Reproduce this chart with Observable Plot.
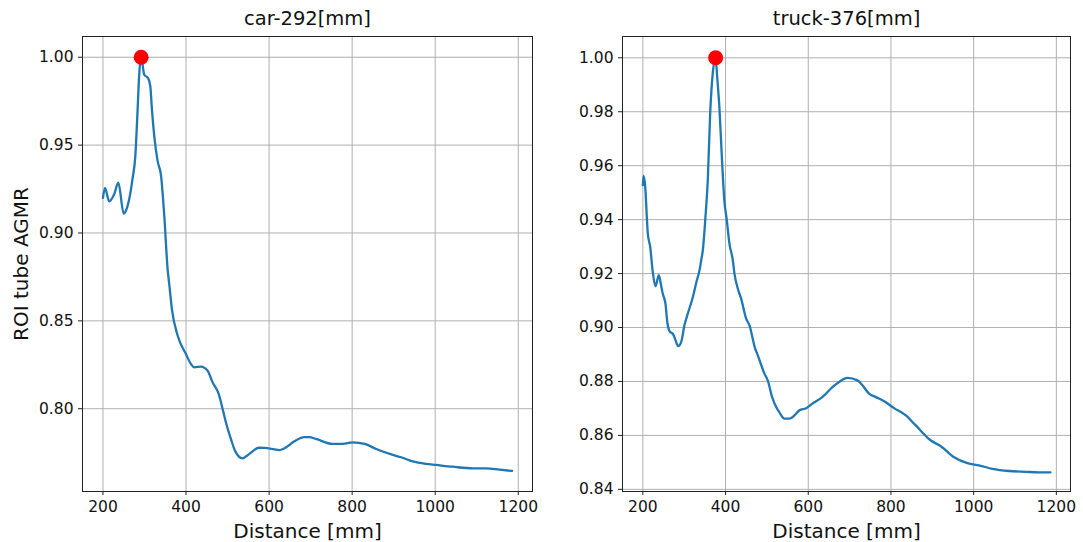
<!DOCTYPE html>
<html>
<head>
<meta charset="utf-8">
<script src="https://cdn.jsdelivr.net/npm/d3@7"></script>
<script src="https://cdn.jsdelivr.net/npm/@observablehq/plot@0.6"></script>
<style>
  html, body { margin: 0; padding: 0; background: #fff; }
  #wrap { position: relative; width: 1083px; height: 542px; font-family: "DejaVu Sans", sans-serif; }
  #left { position: absolute; left: 0; top: 0; }
  #right { position: absolute; left: 540px; top: 0; }
</style>
</head>
<body>
<div id="wrap"><div id="left"></div><div id="right"></div></div>
<script>
const titles = ["car-292[mm]", "truck-376[mm]"];
const xLabel = "Distance [mm]";
const yLabel = "ROI tube AGMR";

const carX = [200,205,215,227,237,250,255,263,271,278,283,287.5,292,299.5,309,314,318,323.6,331.6,340,347.7,355.7,360,366,380,400,412,420,436,452,464,478.6,488,496,508,519,536,552.5,575,589,625,637,661,685,697,713,753,777,801,830,858,898,918,946,978,1002,1042,1091,1123,1155,1185];
const carY = [0.920,0.9256,0.918,0.922,0.9286,0.911,0.9125,0.919,0.9305,0.944,0.968,0.991,1.0,0.990,0.988,0.9835,0.970,0.955,0.941,0.9324,0.9097,0.8794,0.870,0.8567,0.8415,0.831,0.8254,0.8235,0.824,0.8216,0.815,0.8084,0.800,0.7923,0.7828,0.7756,0.7718,0.7743,0.7778,0.7777,0.7765,0.7775,0.7815,0.7838,0.7838,0.7828,0.780,0.780,0.7809,0.780,0.7771,0.7737,0.7724,0.770,0.7686,0.768,0.767,0.7661,0.7661,0.7653,0.7646];

const truckX = [200,201.5,205,212,217.7,224,230.5,238.6,244,248,254.6,259.6,266,272.5,279,285.5,292.6,300.6,308.8,321,330.6,337,341,345,351.4,357,362.8,369,376,379.7,385,391.8,397,403,409.4,417.6,421.5,429.7,437.7,449.8,457.8,471.6,478,494,502,512.7,522.4,530,542.4,554.5,566.6,578.7,595,610,634,658.5,674.7,694.8,719,731,747,763.5,783.5,807.7,836,860,896.5,920.7,952.9,985,1013,1045.5,1086,1126,1158,1186];
const truckY = [0.9528,0.9562,0.9534,0.9348,0.9299,0.9205,0.9153,0.9194,0.9157,0.9126,0.9089,0.9014,0.8983,0.8977,0.8953,0.8931,0.8946,0.9008,0.9052,0.9113,0.9175,0.9212,0.9249,0.9286,0.941,0.9546,0.9794,0.9942,1.0,0.993,0.9818,0.9608,0.9472,0.9398,0.9311,0.9249,0.920,0.9144,0.9107,0.9033,0.9008,0.8922,0.8897,0.8829,0.8804,0.8742,0.8705,0.8686,0.8662,0.8662,0.8674,0.8693,0.8701,0.8718,0.8742,0.8779,0.8798,0.8813,0.8804,0.8786,0.8755,0.8742,0.8727,0.8701,0.8674,0.8637,0.8581,0.856,0.8519,0.8497,0.8489,0.8476,0.8468,0.8465,0.8463,0.8463];

const peakX = [292, 376];
const peakY = [1.0, 1.0];

const xTicks = [200, 400, 600, 800, 1000, 1200];
const carYTicks = [0.80, 0.85, 0.90, 0.95, 1.00];
const truckYTicks = [0.84, 0.86, 0.88, 0.90, 0.92, 0.94, 0.96, 0.98, 1.00];

function panel({xs, ys, px, py, title, yTicks, yDomain, width, marginLeft, marginRight, showYLabel}) {
  const data = xs.map((x, i) => ({x, y: ys[i]}));
  const marks = [
    Plot.gridX(xTicks, {stroke: "#b0b0b0", strokeOpacity: 1, strokeWidth: 1}),
    Plot.gridY(yTicks, {stroke: "#b0b0b0", strokeOpacity: 1, strokeWidth: 1}),
    Plot.axisX(xTicks, {tickSize: 4, tickPadding: 5, fontSize: 15.5, label: null, tickFormat: d3.format("d"), stroke: "#222", fill: "#111"}),
    Plot.axisY(yTicks, {tickSize: 4, tickPadding: 5, fontSize: 15.5, label: null, tickFormat: d3.format(".2f"), stroke: "#222", fill: "#111"}),
    Plot.line(data, {x: "x", y: "y", stroke: "#1f77b4", strokeWidth: 2.3, curve: "monotone-x"}),
    Plot.dot([{x: px, y: py}], {x: "x", y: "y", r: 7.5, fill: "#ff0000", stroke: "none"}),
    Plot.frame({stroke: "#222", strokeWidth: 1}),
    Plot.text([title], {frameAnchor: "top", text: d => d, dy: -18, fontSize: 19.5, fill: "#111", lineAnchor: "middle"}),
    Plot.text([xLabel], {frameAnchor: "bottom", text: d => d, dy: 40, fontSize: 20, fill: "#111", lineAnchor: "middle"})
  ];
  if (showYLabel) {
    marks.push(Plot.text([yLabel], {frameAnchor: "left", text: d => d, rotate: -90, dx: -61, fontSize: 20, fill: "#111", textAnchor: "middle", lineAnchor: "middle"}));
  }
  return Plot.plot({
    width, height: 542,
    marginLeft, marginRight, marginTop: 36, marginBottom: 51,
    style: {fontFamily: "DejaVu Sans, sans-serif", background: "#fff", color: "#222"},
    x: {domain: [150.75, 1234.25]},
    y: {domain: yDomain},
    marks
  });
}

document.getElementById("left").appendChild(panel({
  xs: carX, ys: carY, px: peakX[0], py: peakY[0], title: titles[0],
  yTicks: carYTicks, yDomain: [0.7529, 1.0118], width: 540, marginLeft: 82, marginRight: 8, showYLabel: true
}));
document.getElementById("right").appendChild(panel({
  xs: truckX, ys: truckY, px: peakX[1], py: peakY[1], title: titles[1],
  yTicks: truckYTicks, yDomain: [0.8392, 1.0079], width: 543, marginLeft: 82, marginRight: 13, showYLabel: false
}));
</script>
</body>
</html>
